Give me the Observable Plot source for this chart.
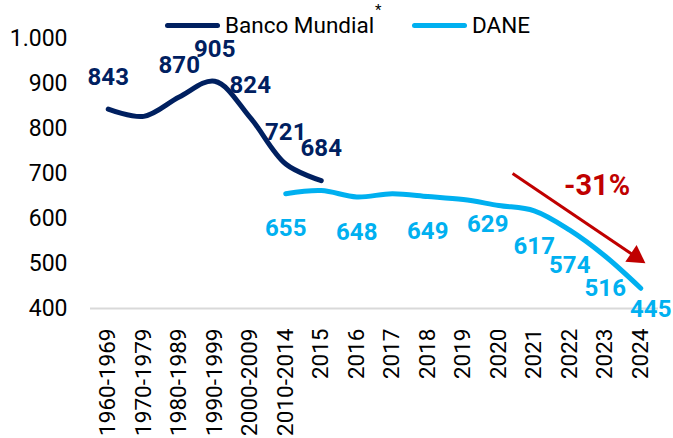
<!DOCTYPE html>
<html>
<head>
<meta charset="utf-8">
<script src="https://cdn.jsdelivr.net/npm/d3@7"></script>
<script src="https://cdn.jsdelivr.net/npm/@observablehq/plot@0.6"></script>
<style>
  body { margin: 0; background: #fff; font-family: Roboto, sans-serif; }
  #wrap { position: relative; width: 673px; height: 438px; }
  #legend { position: absolute; left: 0; top: 0; width: 673px; height: 40px; z-index: 2; font: 22.5px Roboto, sans-serif; color: #000; }
  .sw { position: absolute; height: 5px; width: 55px; border-radius: 3px; top: 23px; }
  .lt { position: absolute; top: 12px; line-height: 26px; white-space: nowrap; }
  .ast { position: absolute; font-size: 15px; line-height: 15px; }
</style>
</head>
<body>
<div id="wrap">
  <div id="legend"></div>
  <div id="chart"></div>
</div>
<script>
const categories = ["1960-1969","1970-1979","1980-1989","1990-1999","2000-2009","2010-2014","2015","2016","2017","2018","2019","2020","2021","2022","2023","2024"];
const bancoMundial = [843, 827, 870, 905, 824, 721, 684, null, null, null, null, null, null, null, null, null];
const bancoMundialLabeled = [true, false, true, true, true, true, true];
const dane = [null, null, null, null, null, 655, 662, 648, 655, 649, 642, 629, 617, 574, 516, 445];
const daneLabeled = [false, false, false, false, false, true, false, true, false, true, false, true, true, true, true, true];
const yTicks = [400, 500, 600, 700, 800, 900, 1000];
const seriesNames = ["Banco Mundial", "DANE"];
const seriesColors = ["#002060", "#00B0F0"];
const arrowAnn = [{x1: 11.39, y1: 700, x2: 14.84, y2: 516}];
const arrowHead = [{x: 14.86, y: 515}];
const changeLabel = [{x: 13.77, y: 673, text: "-31%"}];

const fmt = d3.formatLocale({decimal: ",", thousands: ".", grouping: [3], currency: ["$", ""]}).format(",");

const bm = bancoMundial.map((v, i) => ({i, v, lab: !!bancoMundialLabeled[i]})).filter(d => d.v != null);
const dn = dane.map((v, i) => ({i, v, lab: !!daneLabeled[i]})).filter(d => d.v != null);

// Legend
const leg = document.getElementById("legend");
leg.innerHTML = `
  <div class="sw" style="left:165px;background:${seriesColors[0]}"></div>
  <div class="lt" style="left:225px">${seriesNames[0]}</div>
  <div class="ast" style="left:375px;top:3px">*</div>
  <div class="sw" style="left:412px;background:${seriesColors[1]}"></div>
  <div class="lt" style="left:472px">${seriesNames[1]}</div>`;

const labelFont = {fontSize: 24, fontWeight: "bold", fontFamily: "Roboto"};

const chart = Plot.plot({
  width: 673,
  height: 438,
  marginLeft: 90,
  marginRight: 15,
  marginTop: 38,
  marginBottom: 130,
  style: {fontFamily: "Roboto", fontSize: "23px", color: "#000", background: "transparent", overflow: "visible"},
  x: {domain: [-0.5, 15.5], axis: null},
  y: {domain: [400, 1000], axis: null},
  marks: [
    Plot.ruleY([400], {stroke: "#d9d9d9", strokeWidth: 2}),
    Plot.axisY({ticks: yTicks, tickFormat: fmt, tickSize: 0, tickPadding: 23, label: null, fontSize: 23}),
    Plot.axisX({ticks: d3.range(categories.length), tickFormat: i => categories[i], tickSize: 0, tickPadding: 20, tickRotate: -90, label: null, fontSize: 22.5}),
    Plot.line(bm, {x: "i", y: "v", stroke: seriesColors[0], strokeWidth: 5, curve: "catmull-rom", strokeLinecap: "round"}),
    Plot.line(dn, {x: "i", y: "v", stroke: seriesColors[1], strokeWidth: 5, curve: "catmull-rom", strokeLinecap: "round"}),
    Plot.text(bm.filter(d => d.lab), {x: "i", y: "v", text: d => fmt(d.v), fill: seriesColors[0], dy: -32, ...labelFont}),
    Plot.text(dn.filter(d => d.lab && d.i !== 11 && d.i !== 15 && d.i !== 14), {x: "i", y: "v", text: d => fmt(d.v), fill: seriesColors[1], dy: 35, ...labelFont}),
    Plot.text(dn.filter(d => d.lab && d.i === 11), {x: "i", y: "v", text: d => fmt(d.v), fill: seriesColors[1], dx: -11, dy: 19, ...labelFont}),
    Plot.text(dn.filter(d => d.lab && d.i === 14), {x: "i", y: "v", text: d => fmt(d.v), fill: seriesColors[1], dy: 32, ...labelFont}),
    Plot.text(dn.filter(d => d.lab && d.i === 15), {x: "i", y: "v", text: d => fmt(d.v), fill: seriesColors[1], dx: 10, dy: 21, ...labelFont}),
    Plot.link(arrowAnn, {x1: "x1", y1: "y1", x2: "x2", y2: "y2", stroke: "#C00000", strokeWidth: 3}),
    Plot.dot(arrowHead, {x: "x", y: "y", symbol: "triangle", r: 7.5, fill: "#C00000", stroke: "none", rotate: 124}),
    Plot.text(changeLabel, {x: "x", y: "y", text: "text", fill: "#C00000", fontSize: 29, fontWeight: "bold", fontFamily: "Roboto"})
  ]
});
document.getElementById("chart").appendChild(chart);
</script>
</body>
</html>
